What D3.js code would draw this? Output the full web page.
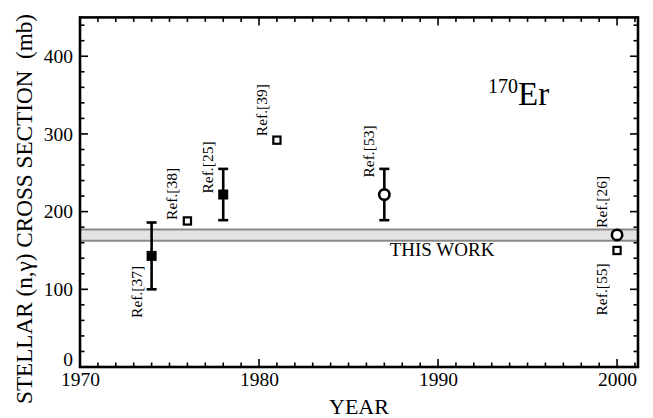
<!DOCTYPE html>
<html>
<head>
<meta charset="utf-8">
<script src="https://cdn.jsdelivr.net/npm/d3@7"></script>
<style>
  html, body { margin: 0; padding: 0; background: #fff; }
  svg { display: block; }
  svg text { font-family: "Liberation Serif", "Times New Roman", serif; fill: #000; }
</style>
</head>
<body>
<svg id="chart" width="653" height="418"></svg>
<script>
// Measurements of the 170Er stellar (n,gamma) cross section by year
const refLabels = ["Ref.[37]", "Ref.[38]", "Ref.[25]", "Ref.[39]", "Ref.[53]", "Ref.[26]", "Ref.[55]"];
const years     = [1974, 1976, 1978, 1981, 1987, 2000, 2000];
const values    = [143, 188, 222, 292, 222, 170, 150];
const errors    = [43, 0, 33, 0, 33, 0, 0];
const markers   = ["filledSquare", "openSquare", "filledSquare", "openSquare", "openCircle", "openCircle", "openSquare"];

// this work: mean value and uncertainty band
const thisWork = 169.7;
const thisWorkErr = 7.3;

const xTicks = [1970, 1980, 1990, 2000];
const yTicks = [0, 100, 200, 300, 400];

// label layout: vertical shift (px) of each rotated label's lower end from the point
const labelShift = { "Ref.[37]": 62, "Ref.[38]": -1, "Ref.[25]": -1, "Ref.[39]": -4,
                     "Ref.[53]": -17, "Ref.[26]": -7, "Ref.[55]": 65 };

const svg = d3.select("#chart");
const m = { left: 80, right: 638, top: 17.4, bottom: 367 };

const x = d3.scaleLinear().domain([1970, 2001.17]).range([m.left, m.right]);
const y = d3.scaleLinear().domain([0, 450]).range([m.bottom, m.top]);

// uncertainty band of this work
svg.append("rect")
  .attr("x", m.left).attr("width", m.right - m.left)
  .attr("y", y(thisWork + thisWorkErr))
  .attr("height", y(thisWork - thisWorkErr) - y(thisWork + thisWorkErr))
  .attr("fill", "#e3e3e3");
[thisWork + thisWorkErr, thisWork - thisWorkErr].forEach(v => {
  svg.append("line")
    .attr("x1", m.left).attr("x2", m.right)
    .attr("y1", y(v)).attr("y2", y(v))
    .attr("stroke", "#8a8a8a").attr("stroke-width", 2);
});
svg.append("text")
  .attr("x", x(1987.3)).attr("y", y(thisWork - thisWorkErr) + 15)
  .attr("font-size", 19)
  .text("THIS WORK");

// ticks on all four sides, minor every year / every 20 mb
const g = svg.append("g");
const xMinor = d3.range(1971, 2002, 1).filter(v => v % 10 !== 0);
const yMinor = d3.range(20, 450, 20).filter(v => v % 100 !== 0);

function tick(x1, x2, y1, y2) {
  g.append("line").attr("x1", x1).attr("x2", x2).attr("y1", y1).attr("y2", y2)
    .attr("stroke", "#000").attr("stroke-width", 1.6);
}
function drawXTicks(vals, len) {
  vals.forEach(v => {
    tick(x(v), x(v), m.bottom, m.bottom - len);
    tick(x(v), x(v), m.top, m.top + len);
  });
}
function drawYTicks(vals, len) {
  vals.forEach(v => {
    tick(m.left, m.left + len, y(v), y(v));
    tick(m.right, m.right - len, y(v), y(v));
  });
}
drawXTicks(xMinor, 4.5);
drawXTicks(xTicks, 8);
drawYTicks(yMinor, 4.5);
drawYTicks(yTicks, 8);

// tick labels from d3 axes (tick lines drawn above)
const xAxis = svg.append("g").attr("transform", `translate(0,${m.bottom})`)
  .call(d3.axisBottom(x).tickValues(xTicks).tickSize(0).tickPadding(5).tickFormat(d3.format("d")));
xAxis.attr("font-family", null).attr("font-size", null);
xAxis.select(".domain").remove();
xAxis.selectAll("text").attr("font-size", 19.5).attr("fill", "#000");

const yAxis = svg.append("g").attr("transform", `translate(${m.left},0)`)
  .call(d3.axisLeft(y).tickValues(yTicks).tickSize(0).tickPadding(7));
yAxis.attr("font-family", null).attr("font-size", null);
yAxis.select(".domain").remove();
yAxis.selectAll("text").attr("font-size", 19.5).attr("fill", "#000");
yAxis.selectAll(".tick").filter(d => d === 0).select("text").attr("dy", "-0.1em");

// frame
svg.append("rect")
  .attr("x", m.left).attr("y", m.top)
  .attr("width", m.right - m.left).attr("height", m.bottom - m.top)
  .attr("fill", "none").attr("stroke", "#000").attr("stroke-width", 2.6);

// axis titles
svg.append("text")
  .attr("transform", `translate(32,209) rotate(-90)`)
  .attr("text-anchor", "middle").attr("font-size", 24)
  .attr("textLength", 390).attr("lengthAdjust", "spacingAndGlyphs")
  .text("STELLAR (n,\u03B3) CROSS SECTION\u00A0\u00A0(mb)");
svg.append("text")
  .attr("x", 359).attr("y", 414)
  .attr("text-anchor", "middle").attr("font-size", 22)
  .text("YEAR");

// isotope tag
const tag = svg.append("text").attr("x", 488).attr("y", 105);
tag.append("tspan").attr("font-size", 20).attr("dy", "-12").text("170");
tag.append("tspan").attr("font-size", 33).attr("dy", "12").text("Er");

// data points with error bars
const pts = svg.append("g");
years.forEach((yr, i) => {
  const cx = x(yr), cy = y(values[i]);
  if (errors[i] > 0) {
    const y1 = y(values[i] + errors[i]), y2 = y(values[i] - errors[i]);
    pts.append("line").attr("x1", cx).attr("x2", cx).attr("y1", y1).attr("y2", y2)
      .attr("stroke", "#000").attr("stroke-width", 2.6);
    [y1, y2].forEach(yy => pts.append("line")
      .attr("x1", cx - 5).attr("x2", cx + 5).attr("y1", yy).attr("y2", yy)
      .attr("stroke", "#000").attr("stroke-width", 2.6));
  }
  if (markers[i] === "filledSquare") {
    pts.append("rect").attr("x", cx - 5).attr("y", cy - 5).attr("width", 10).attr("height", 10)
      .attr("fill", "#000");
  } else if (markers[i] === "openSquare") {
    pts.append("rect").attr("x", cx - 3.6).attr("y", cy - 3.6).attr("width", 7.2).attr("height", 7.2)
      .attr("fill", "#fff").attr("stroke", "#000").attr("stroke-width", 2.2);
  } else {
    pts.append("circle").attr("cx", cx).attr("cy", cy).attr("r", 5.2)
      .attr("fill", "#fff").attr("stroke", "#000").attr("stroke-width", 2.6);
  }

  // rotated reference label, left of the point, read bottom-to-top
  pts.append("text")
    .attr("transform", `translate(${cx - 10},${cy + labelShift[refLabels[i]]}) rotate(-90)`)
    .attr("font-size", 15.5)
    .text(refLabels[i]);
});
</script>
</body>
</html>
